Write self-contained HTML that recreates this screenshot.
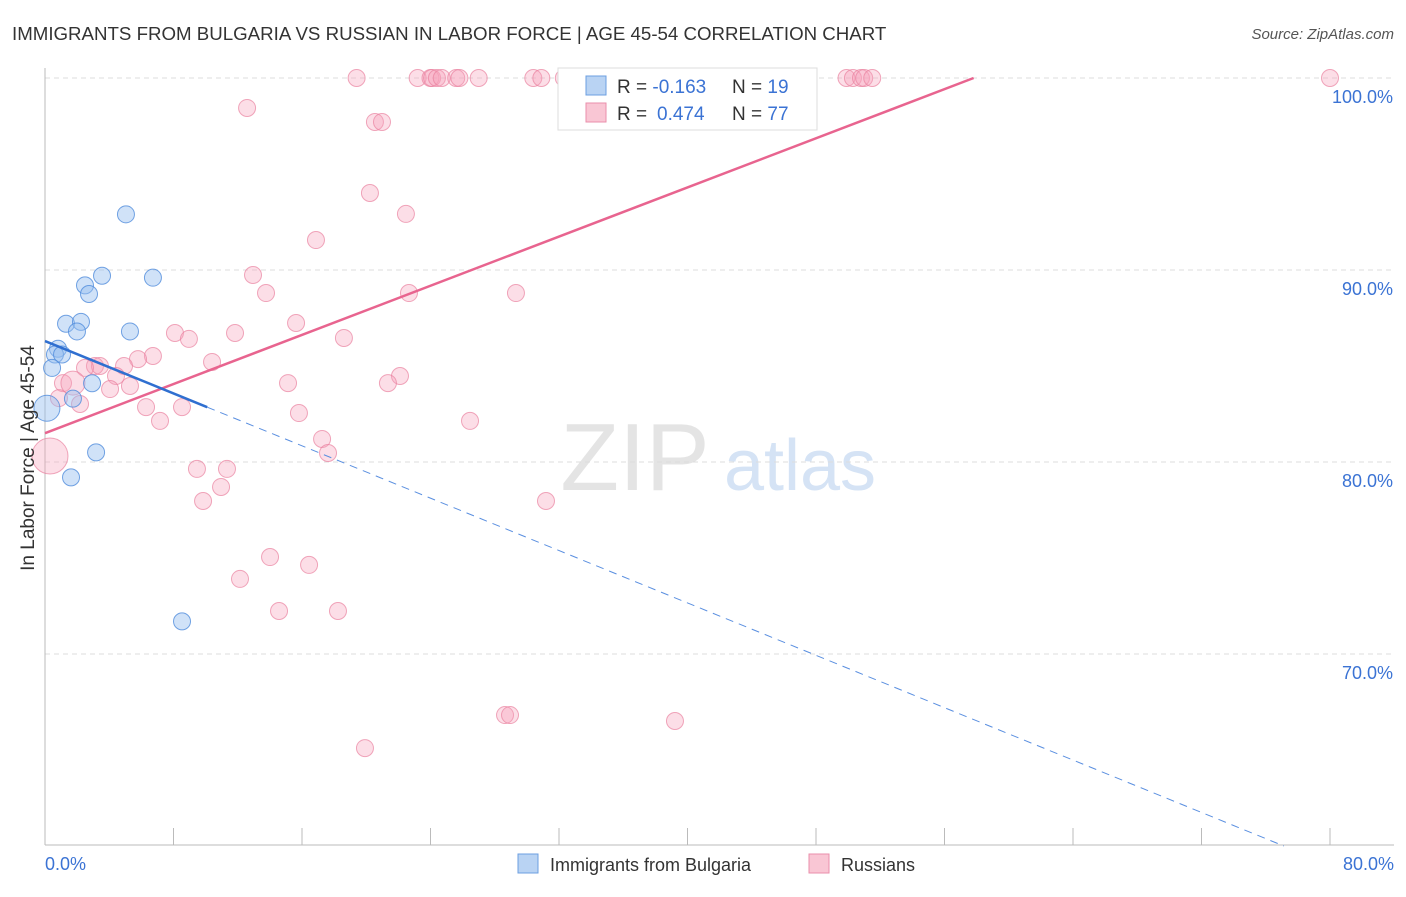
<!DOCTYPE html>
<html><head><meta charset="utf-8"><style>
body{margin:0;background:#fff;font-family:"Liberation Sans",sans-serif}
svg text{font-family:"Liberation Sans",sans-serif}
</style></head><body>
<svg id="chart" width="1406" height="892" viewBox="0 0 1406 892" xmlns="http://www.w3.org/2000/svg">
<text x="12" y="40" font-size="18.7" fill="#333">IMMIGRANTS FROM BULGARIA VS RUSSIAN IN LABOR FORCE | AGE 45-54 CORRELATION CHART</text>
<text x="1394" y="39" font-size="15" fill="#555" font-style="italic" text-anchor="end">Source: ZipAtlas.com</text>
<g>
<text x="635" y="490" font-size="96" fill="#e4e4e4" font-family="Liberation Serif" text-anchor="middle">ZIP</text>
<text x="800" y="490" font-size="72" fill="#d5e3f5" text-anchor="middle">atlas</text>
</g>
<g id="grid"></g>
<g id="axes"></g>
<g id="pts"></g>
<g id="lines"></g>
<text transform="translate(34,458) rotate(-90)" font-size="19" fill="#333" text-anchor="middle">In Labor Force | Age 45-54</text>
<g>
<rect x="558" y="68" width="259" height="62" fill="#fff" stroke="#ddd"/>
<rect x="586" y="76" width="20" height="19" fill="#b9d3f3" stroke="#6c9fe0"/>
<rect x="586" y="103" width="20" height="19" fill="#f9c6d4" stroke="#ea8fab"/>
<text x="617" y="93" font-size="19" fill="#333">R = <tspan fill="#3b73d4">-0.163</tspan></text>
<text x="732" y="93" font-size="19" fill="#333">N = <tspan fill="#3b73d4">19</tspan></text>
<text x="617" y="120" font-size="19" fill="#333">R = <tspan fill="#3b73d4" x="657">0.474</tspan></text>
<text x="732" y="120" font-size="19" fill="#333">N = <tspan fill="#3b73d4">77</tspan></text>
</g>
<g>
<rect x="518" y="854" width="20" height="19" fill="#b9d3f3" stroke="#6c9fe0"/>
<text x="550" y="871" font-size="18" fill="#333">Immigrants from Bulgaria</text>
<rect x="809" y="854" width="20" height="19" fill="#f9c6d4" stroke="#ea8fab"/>
<text x="841" y="871" font-size="18" fill="#333">Russians</text>
</g>
</svg>
<script>
const yTicks=[100,90,80,70];
const yTickLabels=["100.0%","90.0%","80.0%","70.0%"];
const xTickLabels=["0.0%","80.0%"];
const bulgariaX=[5.04,3.55,6.72,2.49,2.74,1.31,2.24,1.99,5.29,0.81,0.62,1.06,0.44,2.93,1.74,0.12,3.18,1.62,8.53];
const bulgariaY=[92.9,89.7,89.6,89.2,88.75,87.2,87.3,86.8,86.8,85.9,85.6,85.6,84.9,84.1,83.3,82.8,80.5,79.2,71.7];
const bulgariaR=[8.5,8.5,8.5,8.5,8.5,8.5,8.5,8.5,8.5,8.5,8.5,8.5,8.5,8.5,8.5,13,8.5,8.5,8.5];
const russiansX=[19.4,23.2,24.0,24.1,24.4,24.7,25.6,25.8,27.0,30.4,30.9,32.3,33.1,37.7,38.3,49.9,50.3,50.8,51.0,51.5,80.0,
 12.58,20.54,20.98,20.23,22.47,16.87,12.95,13.76,22.66,29.32,15.63,11.83,8.09,8.96,18.61,6.72,5.79,10.40,3.11,3.42,4.92,2.49,4.42,22.10,15.13,21.35,1.12,5.29,4.05,0.87,2.18,6.29,8.53,15.81,7.16,26.46,17.25,17.62,0.31,9.46,11.33,10.96,9.84,31.19,14.01,16.44,12.14,14.57,18.24,28.64,28.95,39.22,19.92,1.74];
const russiansY=[100,100,100,100,100,100,100,100,100,100,100,100,100,100,100,100,100,100,100,100,100,
 98.44,97.71,97.71,94.01,92.92,91.56,89.74,88.80,88.80,88.80,87.24,86.72,86.72,86.41,86.46,85.52,85.36,85.21,85.0,85.0,85.0,84.90,84.48,84.48,84.11,84.11,84.11,83.96,83.80,83.33,83.02,82.86,82.86,82.55,82.14,82.14,81.20,80.47,80.31,79.64,79.64,78.70,77.97,77.97,75.05,74.64,73.91,72.24,72.24,66.82,66.82,66.51,65.10,84.11];
const russiansR=russiansX.map((v,i)=>i===russiansX.length-1?12:(i===59?18:8.5));
const pinkA=81.5, pinkB=0.32, blueA=86.3, blueB=-0.341, blueSolidEnd=10.1;
const X=v=>45+v/80*1285, Y=v=>78+(100-v)*19.2;
const NS="http://www.w3.org/2000/svg";
function mk(tag,attrs,parent){const e=document.createElementNS(NS,tag);for(const k in attrs)e.setAttribute(k,attrs[k]);parent.appendChild(e);return e;}
const grid=document.getElementById('grid'),axes=document.getElementById('axes'),pts=document.getElementById('pts'),lines=document.getElementById('lines');
yTicks.forEach((t,i)=>{
 const l=mk('line',{x1:45,x2:1394,y1:Y(t),y2:Y(t),stroke:'#ddd','stroke-dasharray':'5,4'},grid);
 
 
 const tx=mk('text',{x:1393,y:Y(t)+25,'font-size':18,fill:'#3b73d4','text-anchor':'end'},axes);
 tx.textContent=yTickLabels[i];
 
 
});
const ya=mk('line',{x1:45,x2:45,y1:68,y2:845,stroke:'#bbb'},axes);


const xa=mk('line',{x1:45,x2:1394,y1:845,y2:845,stroke:'#bbb'},axes);


for(let i=0;i<=10;i++){const t=mk('line',{x1:X(i*8),x2:X(i*8),y1:828,y2:845,stroke:'#bbb'},axes);
 
 }
[[0,'start',45],[80,'end',1394]].forEach((d,i)=>{const t=mk('text',{x:d[2],y:870,'font-size':18,fill:'#3b73d4','text-anchor':d[1]},axes);t.textContent=xTickLabels[i];
 
 });
russiansX.forEach((v,i)=>{const c=mk('circle',{cx:X(v),cy:Y(russiansY[i]),r:russiansR[i],fill:'rgba(245,160,185,0.35)',stroke:'rgba(234,130,160,0.7)','stroke-width':1},pts);
 
 });
bulgariaX.forEach((v,i)=>{const c=mk('circle',{cx:X(v),cy:Y(bulgariaY[i]),r:bulgariaR[i],fill:'rgba(150,190,240,0.45)',stroke:'rgba(80,140,220,0.8)','stroke-width':1},pts);
 
 });
const pEnd=(100-pinkA)/pinkB;
const pl=mk('line',{x1:X(0),y1:Y(pinkA),x2:X(pEnd),y2:Y(100),stroke:'#e8648f','stroke-width':2.5},lines);


const bs=mk('line',{x1:X(0),y1:Y(blueA),x2:X(blueSolidEnd),y2:Y(blueA+blueB*blueSolidEnd),stroke:'#2f6fd0','stroke-width':2.5},lines);


const bEnd=(60-blueA)/blueB;
const bd=mk('line',{x1:X(blueSolidEnd),y1:Y(blueA+blueB*blueSolidEnd),x2:X(bEnd),y2:Y(60),stroke:'#5a8fe0','stroke-width':1,'stroke-dasharray':'8,6'},lines);


</script>
</body></html>
